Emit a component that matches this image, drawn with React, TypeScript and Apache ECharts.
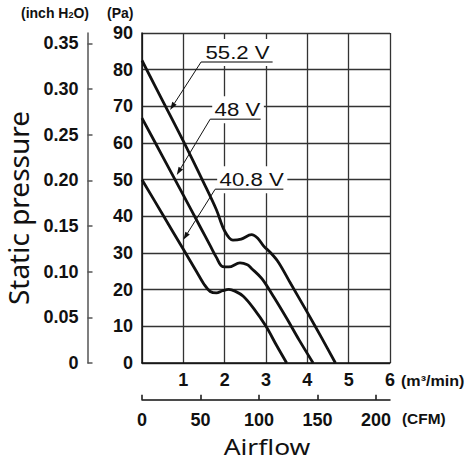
import React, { useEffect, useRef } from "react";
import * as echarts from "echarts";

// Unit conversions for the secondary scales
const PA_PER_INCH_H2O = 249.089;
const CFM_PER_M3_MIN = 35.3147;

// Axis ticks
const flowTicks = [0, 1, 2, 3, 4, 5, 6];
const pressureTicksPa = [0, 10, 20, 30, 40, 50, 60, 70, 80, 90];
const pressureTicksInch = [0, 0.05, 0.1, 0.15, 0.2, 0.25, 0.3, 0.35];
const flowTicksCfm = [0, 50, 100, 150, 200];

// P-Q curves: airflow (m³/min) and static pressure (Pa)
const flow552 = [0, 0.5, 1, 1.5, 1.8, 2.0, 2.2, 2.4, 2.65, 2.8, 2.95, 3.1, 3.3, 3.6, 4.0, 4.35, 4.68];
const pressure552 = [82.5, 71.5, 60.5, 49, 41.8, 36, 33.5, 33.8, 35, 34, 31.8, 30.2, 27.5, 21.6, 13.8, 6.8, 0];

const flow48 = [0, 0.5, 1, 1.4, 1.65, 1.8, 1.95, 2.1, 2.37, 2.55, 2.65, 2.9, 3.2, 3.5, 3.8, 4.14];
const pressure48 = [66.8, 56.3, 45.8, 37.3, 32, 28.8, 26.3, 26.2, 27.3, 26.8, 25.8, 23, 17.8, 12.2, 6.3, 0];

const flow408 = [0, 0.5, 1, 1.3, 1.5, 1.65, 1.8, 1.95, 2.1, 2.25, 2.45, 2.7, 3.0, 3.25, 3.5];
const pressure408 = [50, 40.5, 31, 25.3, 21.5, 19.5, 19.1, 19.7, 20.1, 19.6, 18.2, 14.9, 10.0, 4.9, 0];

const voltages = ["55.2 V", "48 V", "40.8 V"];

// Callouts in data space: underline start/end and arrow tip
const callouts = [
  { text: "55.2 V", from: [1.43, 82.1], to: [3.16, 82.1], tip: [0.68, 69.0] },
  { text: "48 V", from: [1.65, 66.5], to: [2.87, 66.5], tip: [0.84, 51.3] },
  { text: "40.8 V", from: [1.77, 47.4], to: [3.42, 47.4], tip: [1.0, 33.6] },
];

const zip = (xs: number[], ys: number[]) => xs.map((x, i) => [x, ys[i]]);

const TICK_FONT = "Liberation Sans";
const INK = "#111";

export default function App() {
  const ref = useRef<HTMLDivElement>(null);

  useEffect(() => {
    const chart = echarts.init(ref.current!, null, { renderer: "svg" });

    const curve = (name: string, xs: number[], ys: number[]) => ({
      name,
      type: "line",
      data: zip(xs, ys),
      xAxisIndex: 0,
      yAxisIndex: 0,
      showSymbol: false,
      smooth: 0.35,
      lineStyle: { color: INK, width: 2.8 },
      z: 5,
    });

    const tickLabel = {
      color: INK,
      fontFamily: TICK_FONT,
      fontWeight: "bold" as const,
      fontSize: 18,
    };

    chart.setOption({
      animation: false,
      backgroundColor: "#fff",
      grid: { left: 142, right: 82, top: 33, height: 330, containLabel: false },
      xAxis: [
        {
          type: "value",
          min: 0,
          max: 6,
          interval: 1,
          axisLine: { show: true, lineStyle: { color: INK, width: 1.5 } },
          axisTick: { show: false },
          axisLabel: {
            ...tickLabel,
            margin: 8,
            formatter: (v: number) => (v === 0 ? "" : String(v)),
            customValues: flowTicks,
          },
          splitLine: { show: true, lineStyle: { color: "#333", width: 1.3 } },
        },
        {
          type: "value",
          position: "bottom",
          offset: 36.7,
          min: 0,
          max: 6 * CFM_PER_M3_MIN,
          axisLine: { show: true, onZero: false, lineStyle: { color: INK, width: 1.5 } },
          axisTick: {
            show: true,
            inside: true,
            length: 5,
            lineStyle: { color: INK, width: 1.5 },
            customValues: flowTicksCfm,
          },
          axisLabel: { ...tickLabel, margin: 11, customValues: flowTicksCfm },
          splitLine: { show: false },
        },
      ],
      yAxis: [
        {
          type: "value",
          min: 0,
          max: 90,
          interval: 10,
          axisLine: { show: true, lineStyle: { color: INK, width: 1.5 } },
          axisTick: { show: false },
          axisLabel: { ...tickLabel, margin: 9, customValues: pressureTicksPa },
          splitLine: { show: true, lineStyle: { color: "#333", width: 1.3 } },
        },
        {
          type: "value",
          position: "left",
          offset: 54.5,
          min: 0,
          max: 90 / PA_PER_INCH_H2O,
          axisLine: { show: true, onZero: false, lineStyle: { color: "#555", width: 1.5 } },
          axisTick: {
            show: true,
            inside: true,
            length: 5,
            lineStyle: { color: "#555", width: 1.5 },
            customValues: pressureTicksInch,
          },
          axisLabel: {
            ...tickLabel,
            margin: 9,
            customValues: pressureTicksInch,
            formatter: (v: number) => (v === 0 ? "0" : v.toFixed(2)),
          },
          splitLine: { show: false },
        },
      ],
      series: [
        curve(voltages[0], flow552, pressure552),
        curve(voltages[1], flow48, pressure48),
        curve(voltages[2], flow408, pressure408),
      ],
    });

    const px = (pt: number[]) =>
      chart.convertToPixel({ xAxisIndex: 0, yAxisIndex: 0 }, pt) as number[];

    const calloutGraphics: any[] = [];
    callouts.forEach((c) => {
      const a = px(c.from);
      const b = px(c.to);
      const t = px(c.tip);
      // label with a white plate that hides the grid behind it
      calloutGraphics.push({
        type: "text",
        x: a[0] + 2,
        y: a[1] - 9.5,
        scaleX: 1.2,
        z: 100,
        style: {
          text: c.text,
          fill: INK,
          font: `18.5px "${TICK_FONT}"`,
          align: "left",
          verticalAlign: "middle",
          backgroundColor: "#fff",
          padding: [3, 3, 5, 2],
        },
      });
      calloutGraphics.push({
        type: "line",
        z: 101,
        shape: { x1: a[0], y1: a[1], x2: b[0], y2: b[1] },
        style: { stroke: "#555", lineWidth: 1.5 },
      });
      // leader with arrowhead
      const dx = t[0] - a[0];
      const dy = t[1] - a[1];
      const len = Math.hypot(dx, dy);
      const ux = dx / len;
      const uy = dy / len;
      const head = 8;
      const half = 2.6;
      const bx = t[0] - ux * head;
      const by = t[1] - uy * head;
      calloutGraphics.push({
        type: "line",
        z: 101,
        shape: { x1: a[0], y1: a[1], x2: bx, y2: by },
        style: { stroke: INK, lineWidth: 1 },
      });
      calloutGraphics.push({
        type: "polygon",
        z: 101,
        shape: {
          points: [
            [t[0], t[1]],
            [bx - uy * half, by + ux * half],
            [bx + uy * half, by - ux * half],
          ],
        },
        style: { fill: INK },
      });
    });

    const unitFont = `bold 14px "${TICK_FONT}"`;

    chart.setOption({
      graphic: [
        ...calloutGraphics,
        {
          type: "text",
          x: 21,
          y: 13,
          z: 100,
          style: {
            text: "(inch H{sub|2}O)",
            fill: INK,
            font: unitFont,
            verticalAlign: "middle",
            rich: {
              sub: { fontSize: 9, fontWeight: "bold", fontFamily: TICK_FONT, fill: INK, padding: [4, 0, 0, 0] },
            },
          },
        },
        {
          type: "text",
          x: 107,
          y: 13,
          z: 100,
          style: { text: "(Pa)", fill: INK, font: unitFont, verticalAlign: "middle" },
        },
        {
          type: "text",
          x: 401,
          y: 381,
          z: 100,
          scaleX: 1.15,
          style: { text: "(m³/min)", fill: INK, font: unitFont, verticalAlign: "middle" },
        },
        {
          type: "text",
          x: 402,
          y: 419,
          z: 100,
          scaleX: 1.1,
          style: { text: "(CFM)", fill: INK, font: unitFont, verticalAlign: "middle" },
        },
        {
          type: "text",
          x: 18,
          y: 208,
          rotation: Math.PI / 2,
          z: 100,
          style: {
            text: "Static pressure",
            fill: INK,
            font: '28px "Noto Sans"',
            align: "center",
            verticalAlign: "middle",
          },
        },
        {
          type: "text",
          x: 267,
          y: 446,
          scaleX: 1.2,
          z: 100,
          style: {
            text: "Airflow",
            fill: INK,
            font: '22px "Noto Sans"',
            align: "center",
            verticalAlign: "middle",
          },
        },
      ],
    });

    return () => chart.dispose();
  }, []);

  return (
    <div
      ref={ref}
      style={{ position: "absolute", left: 0, top: 0, width: 472, height: 471 }}
    />
  );
}
